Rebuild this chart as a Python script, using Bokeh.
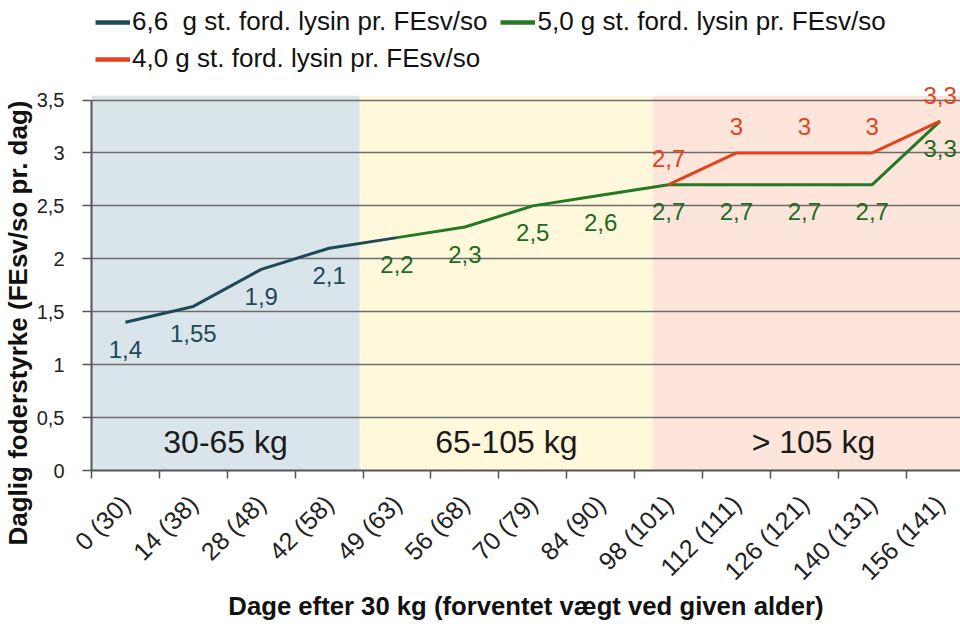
import math
from bokeh.plotting import figure
from bokeh.models import (ColumnDataSource, LabelSet, Range1d, FixedTicker,
                          CustomJSTickFormatter, Legend, LegendItem, Title)
from bokeh.core.properties import value
from bokeh.embed import file_html
from bokeh.resources import INLINE

# ---------------- data ----------------
days = ["0 (30)", "14 (38)", "28 (48)", "42 (58)", "49 (63)", "56 (68)", "70 (79)",
        "84 (90)", "98 (101)", "112 (111)", "126 (121)", "140 (131)", "156 (141)"]

lys66_days = days[0:4]
lys66 = [1.4, 1.55, 1.9, 2.1]
lys50_days = days[4:]
lys50 = [2.2, 2.3, 2.5, 2.6, 2.7, 2.7, 2.7, 2.7, 3.3]
lys40_days = days[8:]
lys40 = [2.7, 3, 3, 3, 3.3]

series_names = ["6,6  g st. ford. lysin pr. FEsv/so",
                "5,0 g st. ford. lysin pr. FEsv/so",
                "4,0 g st. ford. lysin pr. FEsv/so"]

bands = ["30-65 kg", "65-105 kg", "> 105 kg"]
band_start = [0, 3.95, 8.27]
band_end = [3.95, 8.27, 13]

yticks = [0, 0.5, 1, 1.5, 2, 2.5, 3, 3.5]

# ---------------- style ----------------
FONT = "Liberation Sans"
C66 = "#1C4A57"
C50 = "#247A24"
C40 = "#E2431B"
BAND_COLORS = ["#DAE5EB", "#FFF8DA", "#FDE5DB"]
BAND_TOP = 3.54
AX = "#555555"


def pos(labels):
    return [days.index(d) + 0.5 for d in labels]


def fmt(v):
    return f"{v:g}".replace(".", ",")


p = figure(width=960, height=632, output_backend="svg", toolbar_location=None,
           x_range=Range1d(0, 12.8), y_range=Range1d(0, 4.44),
           min_border_left=91, min_border_right=0, min_border_top=0,
           min_border_bottom=162)
p.outline_line_color = None
p.background_fill_color = "white"
p.border_fill_color = "white"

# background bands
band_src = ColumnDataSource(dict(left=band_start, right=band_end,
                                 bottom=[0] * len(bands), top=[BAND_TOP] * len(bands),
                                 color=BAND_COLORS, name=bands,
                                 cx=[(a + b) / 2 for a, b in zip(band_start, band_end)]))
p.quad(left="left", right="right", bottom="bottom", top="top", fill_color="color",
       line_color=None, source=band_src, level="image")

# grid
p.xgrid.visible = False
p.ygrid.ticker = FixedTicker(ticks=yticks)
p.ygrid.grid_line_color = "#6C6C6C"
p.ygrid.grid_line_width = 1.6

# lines
x66 = pos(lys66_days) + pos(lys50_days[:1])
y66 = lys66 + lys50[:1]
p.line(x66, y66, line_color=C66, line_width=3)
p.line(pos(lys50_days), lys50, line_color=C50, line_width=3)
p.line(pos(lys40_days), lys40, line_color=C40, line_width=3)


# data labels
def add_labels(xd, yv, color, yoff):
    src = ColumnDataSource(dict(x=pos(xd), y=yv, t=[fmt(v) for v in yv]))
    p.add_layout(LabelSet(x="x", y="y", text="t", source=src, y_offset=yoff,
                          text_align="center", text_baseline="middle",
                          text_font=value(FONT), text_font_size=value("24px"),
                          text_color=color))


add_labels(lys66_days, lys66, C66, -27)
add_labels(lys50_days, lys50, "#1E6A1E", -27)
add_labels(lys40_days, lys40, C40, 26)

# band labels
p.add_layout(LabelSet(x="cx", y=0.27, text="name", source=band_src,
                      text_align="center", text_baseline="middle",
                      text_font=value(FONT), text_font_size=value("32px"),
                      text_color="#1a1a1a"))

# x axis
xa = p.xaxis[0]
xa.bounds = (0, len(days))
xa.ticker = FixedTicker(ticks=[i + 0.5 for i in range(len(days))],
                        minor_ticks=list(range(len(days) + 1)))
xa.formatter = CustomJSTickFormatter(args=dict(labels=days),
                                     code="return labels[Math.floor(tick)] || '';")
xa.major_label_orientation = math.pi / 4
xa.major_tick_out = 0
xa.major_tick_in = 0
xa.minor_tick_out = 8
xa.minor_tick_in = 0
xa.minor_tick_line_color = AX
xa.minor_tick_line_width = 1.5
xa.axis_line_color = AX
xa.axis_line_width = 2
xa.major_label_text_font = FONT
xa.major_label_text_font_size = "25px"
xa.major_label_text_color = "#222222"
xa.major_label_standoff = 21
xa.axis_label = "Dage efter 30 kg (forventet vægt ved given alder)"
xa.axis_label_text_font = FONT
xa.axis_label_text_font_style = "bold"
xa.axis_label_text_font_size = "25.7px"
xa.axis_label_text_color = "#111111"
xa.axis_label_standoff = -6

# y axis
ya = p.yaxis[0]
ya.ticker = FixedTicker(ticks=yticks)
ya.formatter = CustomJSTickFormatter(code="return tick.toString().replace('.', ',');")
ya.bounds = (yticks[0], yticks[-1])
ya.major_tick_out = 9
ya.major_tick_in = 0
ya.minor_tick_line_color = None
ya.major_tick_line_color = AX
ya.major_tick_line_width = 1.5
ya.axis_line_color = AX
ya.axis_line_width = 2
ya.major_label_text_font = FONT
ya.major_label_text_font_size = "20px"
ya.major_label_text_color = "#222222"
ya.major_label_standoff = 18

p.add_layout(Title(text="Daglig foderstyrke (FEsv/so pr. dag)", align="left",
                   offset=-75, standoff=0, vertical_align="middle",
                   text_font=FONT, text_font_size="26px", text_font_style="bold",
                   text_color="#111111"), "left")

# legends (placeholder renderers carry the thicker legend line style)
d66 = p.line([math.nan], [math.nan], line_color=C66, line_width=4.5)
d50 = p.line([math.nan], [math.nan], line_color=C50, line_width=4.5)
d40 = p.line([math.nan], [math.nan], line_color=C40, line_width=4.5)


def make_legend(items, loc, spacing):
    lg = Legend(items=items, orientation="horizontal", location=loc,
                glyph_width=35, glyph_height=30, label_height=30, label_standoff=2,
                spacing=spacing, padding=0, margin=0, border_line_color=None,
                background_fill_alpha=0, label_text_font=FONT,
                label_text_font_size="26px", label_text_color="#111111")
    p.add_layout(lg)


make_legend([LegendItem(label=series_names[0], renderers=[d66]),
             LegendItem(label=series_names[1], renderers=[d50])], (4, 433), 13)
make_legend([LegendItem(label=series_names[2], renderers=[d40])], (4, 396), 4)

open("out.html", "w").write(file_html(p, INLINE))
